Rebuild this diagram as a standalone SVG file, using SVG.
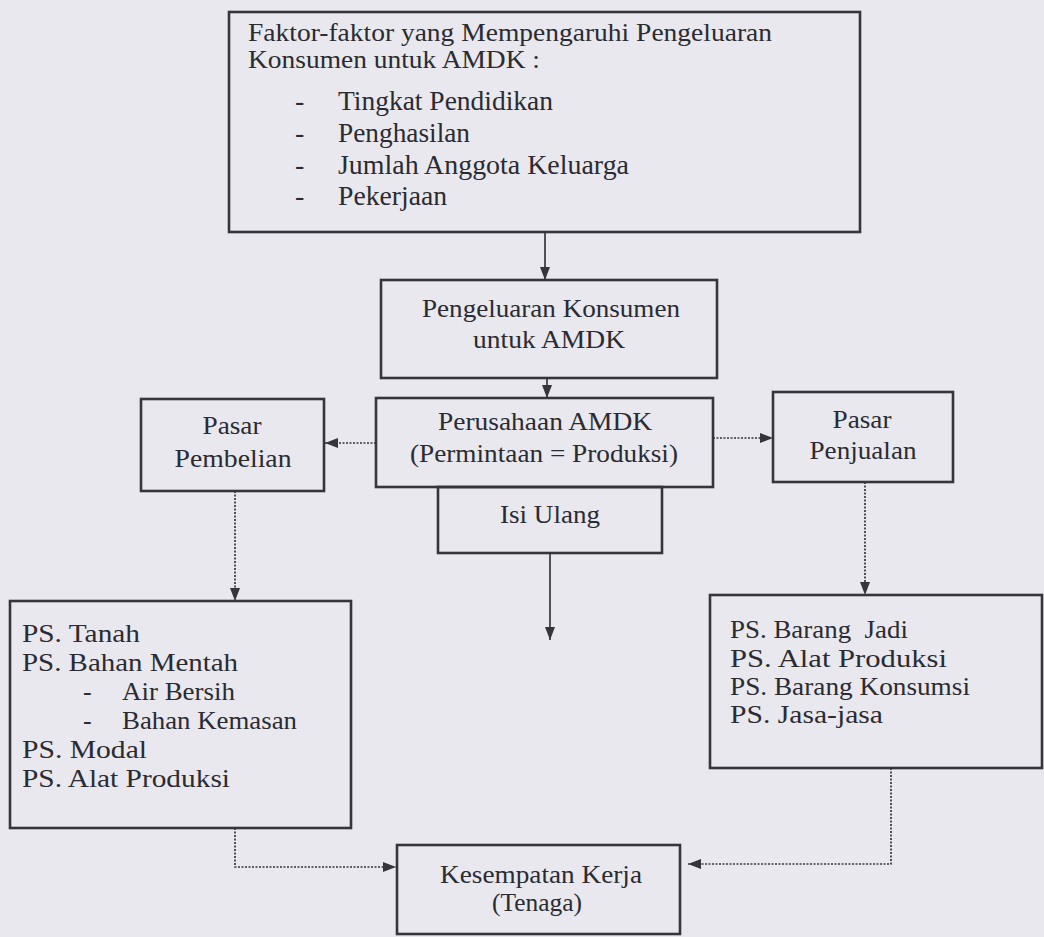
<svg xmlns="http://www.w3.org/2000/svg" width="1044" height="937" viewBox="0 0 1044 937">
<defs>
<style>
.bg{fill:#e8e8ee}
.box{fill:none;stroke:#35353b;stroke-width:2.6}
.t{font-family:"Liberation Serif","Times New Roman",serif;font-size:26px;fill:#2b2b31}
.l{font-size:28px}
.c{text-anchor:middle}
.solid{fill:none;stroke:#35353b;stroke-width:1.7}
.dot{fill:none;stroke:#35353b;stroke-width:1.7;stroke-dasharray:2 1.5}
</style>
<marker id="ah" viewBox="0 0 13 10" refX="13" refY="5" markerWidth="13" markerHeight="10" markerUnits="userSpaceOnUse" orient="auto">
<path d="M0,0 L13,5 L0,10 Z" fill="#35353b"/>
</marker>
</defs>
<rect class="bg" x="0" y="0" width="1044" height="937"/>

<g id="faktor">
<rect class="box" x="229" y="12" width="631" height="220"/>
<text class="t" x="248" y="41" textLength="524" lengthAdjust="spacingAndGlyphs">Faktor-faktor yang Mempengaruhi Pengeluaran</text>
<text class="t" x="248" y="68" textLength="292" lengthAdjust="spacingAndGlyphs">Konsumen untuk AMDK :</text>
<text class="t l" x="295" y="110">-</text>
<text class="t l" x="338" y="110" textLength="215" lengthAdjust="spacingAndGlyphs">Tingkat Pendidikan</text>
<text class="t l" x="295" y="142">-</text>
<text class="t l" x="338" y="142" textLength="132" lengthAdjust="spacingAndGlyphs">Penghasilan</text>
<text class="t l" x="295" y="174">-</text>
<text class="t l" x="338" y="174" textLength="291" lengthAdjust="spacingAndGlyphs">Jumlah Anggota Keluarga</text>
<text class="t l" x="295" y="205">-</text>
<text class="t l" x="338" y="205" textLength="109" lengthAdjust="spacingAndGlyphs">Pekerjaan</text>
</g>

<g id="pengeluaran">
<rect class="box" x="381" y="280" width="336" height="98"/>
<text class="t c" x="551" y="317" textLength="258" lengthAdjust="spacingAndGlyphs">Pengeluaran Konsumen</text>
<text class="t c" x="549" y="348" textLength="152" lengthAdjust="spacingAndGlyphs">untuk AMDK</text>
</g>

<g id="perusahaan">
<rect class="box" x="376" y="398" width="337" height="89"/>
<text class="t c" x="545" y="430" textLength="214" lengthAdjust="spacingAndGlyphs">Perusahaan AMDK</text>
<text class="t c" x="544" y="462" textLength="268" lengthAdjust="spacingAndGlyphs">(Permintaan = Produksi)</text>
</g>

<g id="isi-ulang">
<rect class="box" x="438" y="487" width="224" height="66"/>
<text class="t c" x="550" y="523" textLength="100" lengthAdjust="spacingAndGlyphs">Isi Ulang</text>
</g>

<g id="pasar-pembelian">
<rect class="box" x="141" y="399" width="183" height="92"/>
<text class="t c" x="232" y="434" textLength="59" lengthAdjust="spacingAndGlyphs">Pasar</text>
<text class="t c" x="233" y="467" textLength="117" lengthAdjust="spacingAndGlyphs">Pembelian</text>
</g>

<g id="pasar-penjualan">
<rect class="box" x="773" y="392" width="180" height="90"/>
<text class="t c" x="862" y="428" textLength="59" lengthAdjust="spacingAndGlyphs">Pasar</text>
<text class="t c" x="863" y="459" textLength="107" lengthAdjust="spacingAndGlyphs">Penjualan</text>
</g>

<g id="ps-pembelian">
<rect class="box" x="10" y="601" width="341" height="227"/>
<text class="t" x="22" y="642" textLength="118" lengthAdjust="spacingAndGlyphs">PS. Tanah</text>
<text class="t" x="22" y="671" textLength="216" lengthAdjust="spacingAndGlyphs">PS. Bahan Mentah</text>
<text class="t" x="83" y="700">-</text>
<text class="t" x="122" y="700" textLength="113" lengthAdjust="spacingAndGlyphs">Air Bersih</text>
<text class="t" x="83" y="729">-</text>
<text class="t" x="122" y="729" textLength="175" lengthAdjust="spacingAndGlyphs">Bahan Kemasan</text>
<text class="t" x="22" y="758" textLength="125" lengthAdjust="spacingAndGlyphs">PS. Modal</text>
<text class="t" x="22" y="787" textLength="208" lengthAdjust="spacingAndGlyphs">PS. Alat Produksi</text>
</g>

<g id="ps-penjualan">
<rect class="box" x="710" y="595" width="332" height="173"/>
<text class="t" x="730" y="638" textLength="178" lengthAdjust="spacingAndGlyphs" xml:space="preserve">PS. Barang  Jadi</text>
<text class="t" x="730" y="667" textLength="217" lengthAdjust="spacingAndGlyphs">PS. Alat Produksi</text>
<text class="t" x="730" y="695" textLength="240" lengthAdjust="spacingAndGlyphs">PS. Barang Konsumsi</text>
<text class="t" x="730" y="723" textLength="153" lengthAdjust="spacingAndGlyphs">PS. Jasa-jasa</text>
</g>

<g id="kesempatan-kerja">
<rect class="box" x="397" y="845" width="283" height="89"/>
<text class="t c" x="541" y="883" textLength="202" lengthAdjust="spacingAndGlyphs">Kesempatan Kerja</text>
<text class="t c" x="537" y="911" textLength="90" lengthAdjust="spacingAndGlyphs">(Tenaga)</text>
</g>

<g id="connectors">
<path class="solid" d="M545,232 V280" marker-end="url(#ah)"/>
<path class="solid" d="M547,378 V398" marker-end="url(#ah)"/>
<path class="dot" d="M376,443 H325" marker-end="url(#ah)"/>
<path class="dot" d="M713,438 H773" marker-end="url(#ah)"/>
<path class="solid" d="M550,553 V640" marker-end="url(#ah)"/>
<path class="dot" d="M235,491 V601" marker-end="url(#ah)"/>
<path class="dot" d="M865,482 V595" marker-end="url(#ah)"/>
<path class="dot" d="M235,828 V867 H396" marker-end="url(#ah)"/>
<path class="dot" d="M891,768 V864 H688" marker-end="url(#ah)"/>
</g>
</svg>
